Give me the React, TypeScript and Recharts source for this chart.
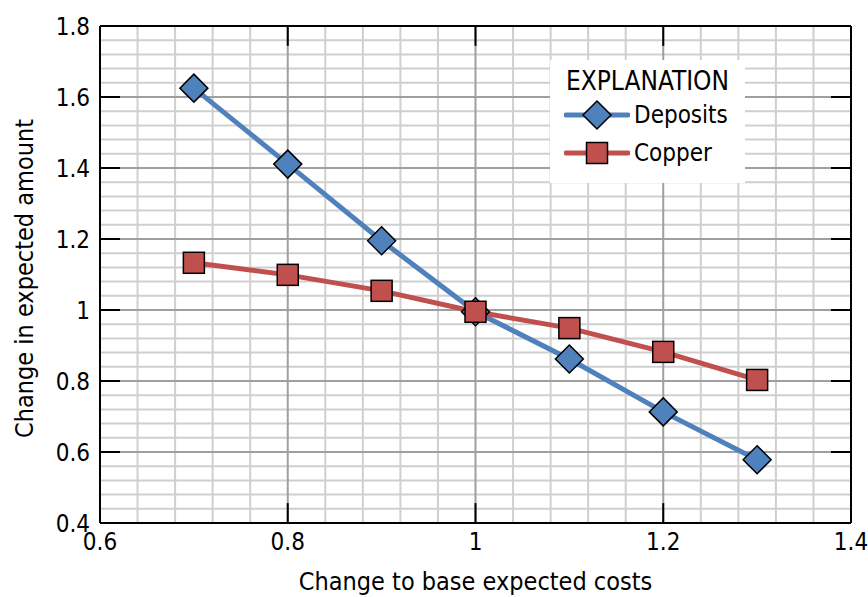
import React from "react"
import {
  LineChart,
  Line,
  XAxis,
  YAxis,
  ReferenceLine,
  Label,
} from "recharts"

// values
const costs = [0.7, 0.8, 0.9, 1.0, 1.1, 1.2, 1.3]
const deposits = [1.625, 1.411, 1.195, 0.995, 0.862, 0.713, 0.578]
const copper = [1.133, 1.099, 1.054, 0.995, 0.949, 0.882, 0.803]

const xTicks = [0.6, 0.8, 1, 1.2, 1.4]
const yTicks = [0.4, 0.6, 0.8, 1, 1.2, 1.4, 1.6, 1.8]
const xMinor = [0.64, 0.68, 0.72, 0.76, 0.84, 0.88, 0.92, 0.96, 1.04, 1.08, 1.12, 1.16, 1.24, 1.28, 1.32, 1.36]
const yMinor = [0.44, 0.48, 0.52, 0.56, 0.64, 0.68, 0.72, 0.76, 0.84, 0.88, 0.92, 0.96, 1.04, 1.08, 1.12, 1.16, 1.24, 1.28, 1.32, 1.36, 1.44, 1.48, 1.52, 1.56, 1.64, 1.68, 1.72, 1.76]

const BLUE = "#4f81bd"
const RED = "#c0504d"
const FONT = "'DejaVu Sans Condensed', 'DejaVu Sans', sans-serif"

const data = costs.map((c, i) => ({ cost: c, deposits: deposits[i], copper: copper[i] }))

const Diamond = ({ cx, cy }: any) => {
  if (cx == null || cy == null) return null
  const r = 14
  return (
    <polygon
      points={`${cx},${cy - r} ${cx + r},${cy} ${cx},${cy + r} ${cx - r},${cy}`}
      fill={BLUE}
      stroke="#000"
      strokeWidth={1.5}
    />
  )
}

const Square = ({ cx, cy }: any) => {
  if (cx == null || cy == null) return null
  const h = 10.5
  return <rect x={cx - h} y={cy - h} width={h * 2} height={h * 2} fill={RED} stroke="#000" strokeWidth={1.5} />
}

const ExplanationLegend = () => (
  <div
    style={{
      position: "absolute",
      left: 550,
      top: 60,
      background: "#fff",
      width: 195,
      height: 123,
      fontFamily: FONT,
      fontStretch: "condensed",
      color: "#000",
    }}
  >
    <div style={{ fontSize: 26, textAlign: "center", paddingTop: 6, lineHeight: "30px" }}>EXPLANATION</div>
    {[
      { name: "Deposits", color: BLUE, marker: "d" },
      { name: "Copper", color: RED, marker: "s" },
    ].map((it) => (
      <div key={it.name} style={{ display: "flex", alignItems: "center", height: 38, marginLeft: 14 }}>
        <svg width={66} height={32}>
          <line x1={2} y1={16} x2={64} y2={16} stroke={it.color} strokeWidth={5} strokeLinecap="round" />
          {it.marker === "d" ? <Diamond cx={33} cy={16} /> : <Square cx={33} cy={16} />}
        </svg>
        <span style={{ fontSize: 24, marginLeft: 4 }}>{it.name}</span>
      </div>
    ))}
  </div>
)

export default function App() {
  const textStyle = { fill: "#000", fontSize: 24, fontFamily: FONT, fontStretch: "condensed" }
  const titleStyle = { ...textStyle, fontSize: 25 }
  return (
    <div style={{ position: "absolute", left: 0, top: 0, width: 868, height: 597, background: "#fff" }}>
      <LineChart width={868} height={597} data={data} margin={{ top: 26, right: 17, left: 0, bottom: 0 }}>
        {/* minor grid */}
        {xMinor.map((v) => (
          <ReferenceLine key={`xm${v}`} x={v} stroke="#cfcfcf" strokeWidth={2} />
        ))}
        {yMinor.map((v) => (
          <ReferenceLine key={`ym${v}`} y={v} stroke="#cfcfcf" strokeWidth={2} />
        ))}
        {/* major grid */}
        {xTicks.slice(1, -1).map((v) => (
          <ReferenceLine key={`xM${v}`} x={v} stroke="#9f9f9f" strokeWidth={2} />
        ))}
        {yTicks.slice(1, -1).map((v) => (
          <ReferenceLine key={`yM${v}`} y={v} stroke="#9f9f9f" strokeWidth={2} />
        ))}
        {/* frame */}
        <ReferenceLine x={1.4} stroke="#000" strokeWidth={2} />
        <ReferenceLine y={1.8} stroke="#000" strokeWidth={2} />
        {/* inner tick marks */}
        {yTicks.slice(1, -1).map((v) => (
          <ReferenceLine key={`tl${v}`} segment={[{ x: 0.6, y: v }, { x: 0.6213, y: v }]} stroke="#000" strokeWidth={2} />
        ))}
        {yTicks.slice(1, -1).map((v) => (
          <ReferenceLine key={`tr${v}`} segment={[{ x: 1.3787, y: v }, { x: 1.4, y: v }]} stroke="#000" strokeWidth={2} />
        ))}
        {xTicks.slice(1, -1).map((v) => (
          <ReferenceLine key={`tb${v}`} segment={[{ x: v, y: 0.4 }, { x: v, y: 0.456 }]} stroke="#000" strokeWidth={2} />
        ))}
        {xTicks.slice(1, -1).map((v) => (
          <ReferenceLine key={`tt${v}`} segment={[{ x: v, y: 1.744 }, { x: v, y: 1.8 }]} stroke="#000" strokeWidth={2} />
        ))}
        <XAxis
          dataKey="cost"
          type="number"
          domain={[0.6, 1.4]}
          ticks={xTicks}
          tickFormatter={(v) => String(Math.round(v * 10) / 10)}
          height={74}
          tickLine={false}
          tickSize={0}
          tickMargin={10}
          axisLine={{ stroke: "#000", strokeWidth: 2 }}
          tick={textStyle}
          interval={0}
        >
          <Label
            value="Change to base  expected costs"
            position="insideBottom"
            offset={7}
            style={{ ...titleStyle, whiteSpace: "pre" }}
          />
        </XAxis>
        <YAxis
          type="number"
          domain={[0.4, 1.8]}
          ticks={yTicks}
          tickFormatter={(v) => String(Math.round(v * 10) / 10)}
          width={100}
          tickLine={false}
          tickSize={0}
          tickMargin={10}
          axisLine={{ stroke: "#000", strokeWidth: 2 }}
          tick={textStyle}
          interval={0}
        >
          <Label
            value="Change in expected amount"
            angle={-90}
            position="insideLeft"
            offset={0}
            dx={24}
            dy={4}
            style={{ ...titleStyle, textAnchor: "middle" }}
          />
        </YAxis>
        <Line
          dataKey="deposits"
          stroke={BLUE}
          strokeWidth={5}
          dot={<Diamond />}
          activeDot={false}
          isAnimationActive={false}
        />
        <Line
          dataKey="copper"
          stroke={RED}
          strokeWidth={5}
          dot={<Square />}
          activeDot={false}
          isAnimationActive={false}
        />
      </LineChart>
      <ExplanationLegend />
    </div>
  )
}
